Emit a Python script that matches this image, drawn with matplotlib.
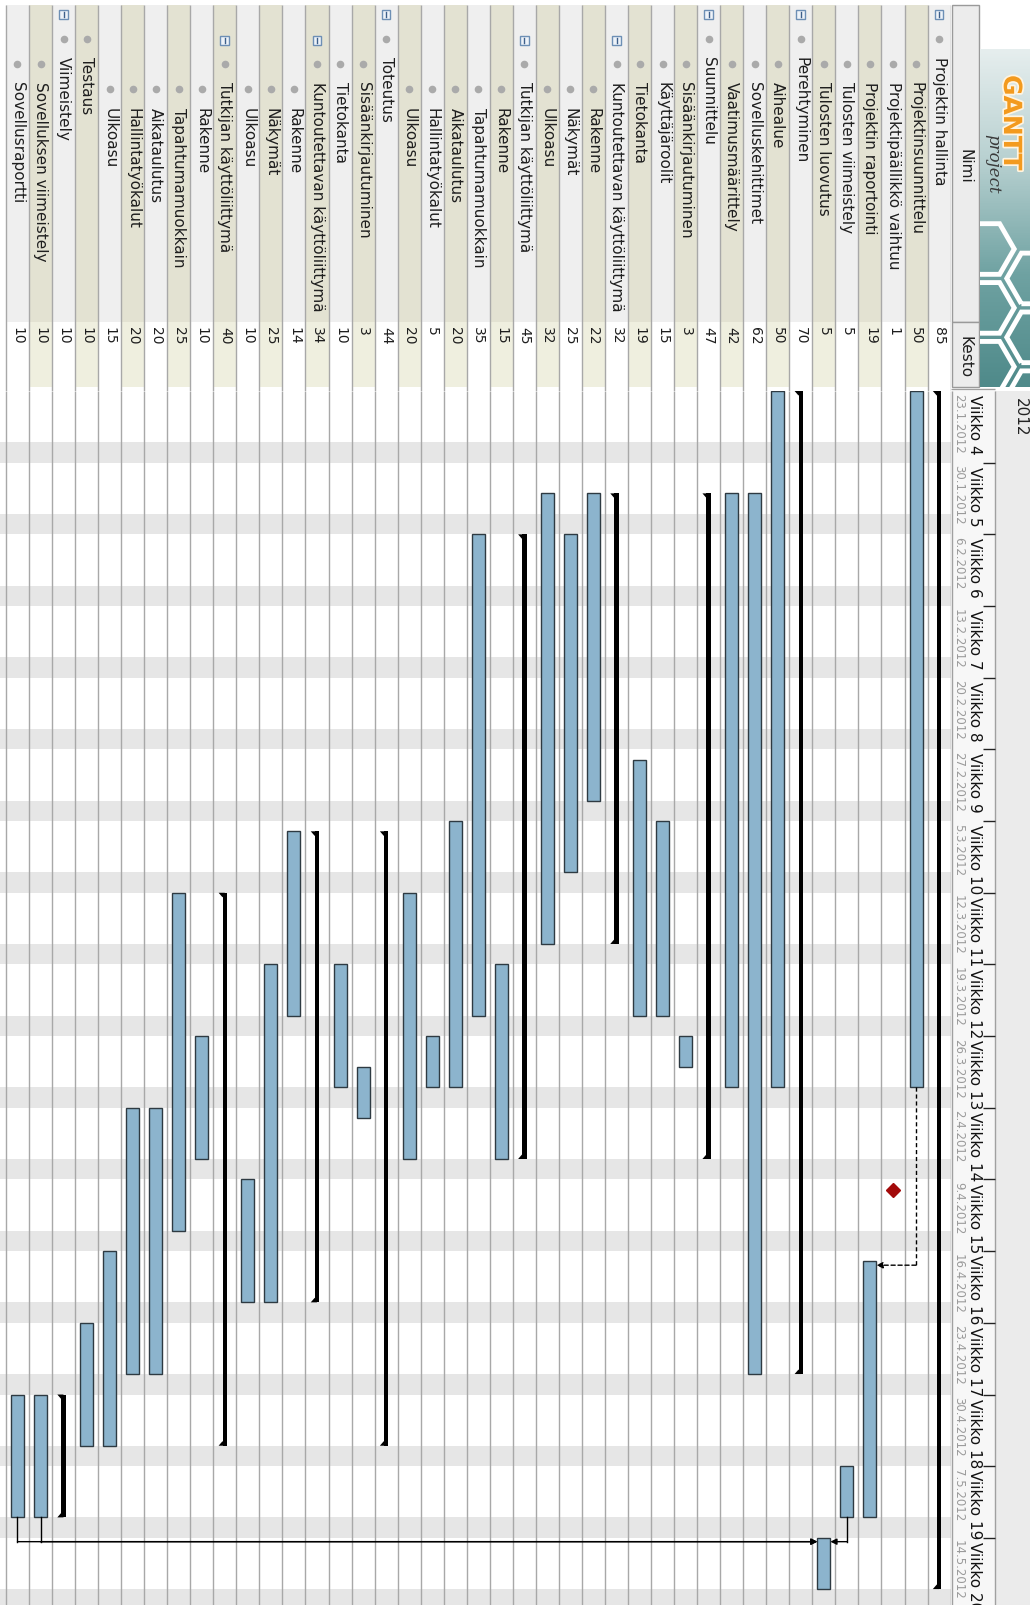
import numpy as np
import matplotlib.pyplot as plt
import matplotlib.patches as mpatches
import matplotlib.patheffects as pe

# ---- data (GanttProject export, shown rotated) ----
names = [
    "Projektin hallinta", "Projektinsuunnittelu", "Projektipäällikkö vaihtuu",
    "Projektin raportointi", "Tulosten viimeistely", "Tulosten luovutus",
    "Perehtyminen", "Aihealue", "Sovelluskehittimet", "Vaatimusmäärittely",
    "Suunnittelu", "Sisäänkirjautuminen", "Käyttäjäroolit", "Tietokanta",
    "Kuntoutettavan käyttöliittymä", "Rakenne", "Näkymät", "Ulkoasu",
    "Tutkijan käyttöliittymä", "Rakenne", "Tapahtumamuokkain", "Aikataulutus",
    "Hallintatyökalut", "Ulkoasu",
    "Toteutus", "Sisäänkirjautuminen", "Tietokanta",
    "Kuntoutettavan käyttöliittymä", "Rakenne", "Näkymät", "Ulkoasu",
    "Tutkijan käyttöliittymä", "Rakenne", "Tapahtumamuokkain", "Aikataulutus",
    "Hallintatyökalut", "Ulkoasu",
    "Testaus", "Viimeistely", "Sovelluksen viimeistely", "Sovellusraportti",
]
levels = [0, 1, 1, 1, 1, 1,
          0, 1, 1, 1,
          0, 1, 1, 1, 1, 2, 2, 2, 1, 2, 2, 2, 2, 2,
          0, 1, 1, 1, 2, 2, 2, 1, 2, 2, 2, 2, 2,
          0, 0, 1, 1]
groups = [0, 6, 10, 14, 18, 24, 27, 31, 38]
milestones = [2]
kesto = [85, 50, 1, 19, 5, 5, 70, 50, 62, 42, 47, 3, 15, 19, 32, 22, 25, 32,
         45, 15, 35, 20, 5, 20, 44, 3, 10, 34, 14, 25, 10, 40, 10, 25, 20, 20,
         15, 10, 10, 10, 10]
start_dates = [
    "2012-01-23", "2012-01-23", "2012-04-10", "2012-04-17", "2012-05-07", "2012-05-14",
    "2012-01-23", "2012-01-23", "2012-02-02", "2012-02-02",
    "2012-02-02", "2012-03-26", "2012-03-05", "2012-02-28", "2012-02-02",
    "2012-02-02", "2012-02-06", "2012-02-02", "2012-02-06", "2012-03-19",
    "2012-02-06", "2012-03-05", "2012-03-26", "2012-03-12",
    "2012-03-06", "2012-03-29", "2012-03-19", "2012-03-06", "2012-03-06",
    "2012-03-19", "2012-04-09", "2012-03-12", "2012-03-26", "2012-03-12",
    "2012-04-02", "2012-04-02", "2012-04-16",
    "2012-04-23", "2012-04-30", "2012-04-30", "2012-04-30",
]
# (from, to, dashed)
links = [(1, 3, True), (4, 5, False), (39, 5, False), (40, 5, False)]
weeks = list(range(4, 21))
week_dates = ["23.1.2012", "30.1.2012", "6.2.2012", "13.2.2012", "20.2.2012",
              "27.2.2012", "5.3.2012", "12.3.2012", "19.3.2012", "26.3.2012",
              "2.4.2012", "9.4.2012", "16.4.2012", "23.4.2012", "30.4.2012",
              "7.5.2012", "14.5.2012"]

day0 = np.datetime64("2012-01-23")
starts = np.array(start_dates, dtype="datetime64[D]")
dur = np.array(kesto)
ends = np.busday_offset(starts, dur - 1, roll="forward") + 1
off = (starts - day0).astype(int)
length = (ends - starts).astype(int)

# ---- layout (pixels) ----
W, H = 1030, 1606
ROW = 23.04
TR = 950.6
T0 = 392
PXD = 10.24
n = len(names)
dmax = (H - T0) / PXD
xl = (TR / ROW - 0.5, -0.5)

fig = plt.figure(figsize=(W / 100, H / 100), dpi=100)


def px_axes(x0, y0, x1, y1):
    a = fig.add_axes([x0 / W, 1 - y1 / H, (x1 - x0) / W, (y1 - y0) / H])
    a.axis("off")
    return a


ax_tab = px_axes(0, 0, TR, T0)
ax_tab.set_xlim(xl)
ax_tab.set_ylim(T0, 0)
ax_g = px_axes(0, T0, TR, H)
ax_g.set_xlim(xl)
ax_g.set_ylim(dmax, 0)
ax_t = px_axes(TR, T0, W, H)
ax_t.set_xlim(TR, W)
ax_t.set_ylim(dmax, 0)
ax_h = px_axes(TR, 0, W, T0)
ax_h.set_xlim(TR, W)
ax_h.set_ylim(T0, 0)

# ---- table ----
for i in range(n):
    odd = i % 2 == 1
    ax_tab.add_patch(mpatches.Rectangle((i - 0.5, 6), 1, 317,
                                        fc="#e3e2d2" if odd else "#efefef", lw=0))
    ax_tab.add_patch(mpatches.Rectangle((i - 0.5, 323), 1, 65,
                                        fc="#efefdf" if odd else "white", lw=0))
ax_tab.vlines(np.arange(-0.5, n + 0.5), 6, T0, color="#a8a8a8", lw=1)

dot_y = {0: 40, 1: 65, 2: 90}
txt_y = {0: 57, 1: 82, 2: 108}
box_y = {0: 15, 1: 41}
ax_tab.scatter(range(n), [dot_y[l] for l in levels], s=20, color="#aaaaaa", zorder=3)
for i in range(n):
    ax_tab.text(i, txt_y[levels[i]], names[i], rotation=270, ha="center", va="top",
                fontsize=11, color="#1e1e1e")
    ax_tab.text(i, 327, str(kesto[i]), rotation=270, ha="center", va="top",
                fontsize=10, color="#1e1e1e")
for g in groups:
    by = box_y[levels[g]]
    ax_tab.add_patch(mpatches.Rectangle((g - 0.19, by - 4.5), 0.38, 9,
                                        fc="#eef3f9", ec="#6d8fb5", lw=1, zorder=4))
    ax_tab.plot([g, g], [by - 2.5, by + 2.5], color="#3d5f8a", lw=1, zorder=5)

# ---- gantt area ----
for w in range(len(weeks)):
    ax_g.axhspan(7 * w + 5, 7 * w + 7, color="#e6e6e6", lw=0, zorder=0)
ax_g.vlines(np.arange(-0.5, n + 0.5), 0, dmax, color="#a8a8a8", lw=1, zorder=1)

tasks = [i for i in range(n) if i not in groups and i not in milestones]
ax_g.bar(tasks, length[tasks], bottom=off[tasks], width=13 / ROW,
         color="#8cb4cd", edgecolor="#2e3a42", lw=1, zorder=3)

bw = 4.5 / ROW
for g in groups:
    y0, y1 = off[g], off[g] + length[g]
    ax_g.add_patch(mpatches.Rectangle((g - bw / 2, y0), bw, y1 - y0,
                                      fc="black", lw=0, zorder=3))
    tip = g + bw / 2 + 4 / ROW
    ax_g.fill([g, tip, g + bw / 2], [y0, y0, y0 + 0.45], color="black", lw=0, zorder=3)
    ax_g.fill([g, tip, g + bw / 2], [y1, y1, y1 - 0.45], color="black", lw=0, zorder=3)

for m in milestones:
    ax_g.plot(m, off[m], marker="D", ms=7, color="#a30a0a", zorder=4)

half = 6.5 / ROW
for a, b, dashed in links:
    ls = (0, (3, 2)) if dashed else "-"
    ya = off[a] + length[a]
    yb = off[b] + 0.37
    tip = b - half if a < b else b + half
    ax_g.plot([a, a], [ya, yb], color="black", lw=1, ls=ls, zorder=4)
    ax_g.annotate("", xy=(tip, yb), xytext=(a, yb),
                  arrowprops=dict(arrowstyle="-|>", color="black", lw=1, ls=ls,
                                  mutation_scale=9, shrinkA=0, shrinkB=0), zorder=4)

# ---- time header ----
ax_t.add_patch(mpatches.Rectangle((TR, 0), 995 - TR, dmax, fc="#f7f7f7", lw=0))
ax_t.add_patch(mpatches.Rectangle((995, 0), W - 995, dmax, fc="#ebebeb", lw=0))
ax_t.vlines([951.5, 995], 0, dmax, color="#a0a0a0", lw=1)
wk_day = [7 * (k - weeks[0]) for k in weeks]
ax_t.hlines(wk_day[1:], 983, 995, color="#222222", lw=1)
for k, d, ds in zip(weeks, wk_day, week_dates):
    ax_t.text(975, d + 0.3, f"Viikko {k}", rotation=270, ha="center", va="top",
              fontsize=11, color="#111111", clip_on=True)
    ax_t.text(958.5, d + 0.15, ds, rotation=270, ha="center", va="top",
              fontsize=8.5, color="#9a9a9a", clip_on=True)
ax_t.text(1020, 0.6, "2012", rotation=270, ha="center", va="top", fontsize=11,
          color="#222222")

# ---- column headers & logo ----
ax_h.add_patch(mpatches.Rectangle((951.5, 6), 27.5, 317, fc="#ececec", ec="#9a9a9a", lw=1))
ax_h.add_patch(mpatches.Rectangle((951.5, 323), 27.5, 65, fc="#ececec", ec="#9a9a9a", lw=1))
ax_h.text(965, 166, "Nimi", rotation=270, ha="center", va="center", fontsize=11,
          color="#1e1e1e")
ax_h.text(965, 357, "Kesto", rotation=270, ha="center", va="center", fontsize=11,
          color="#1e1e1e")
ax_h.hlines(390, 951, 995, color="#a0a0a0", lw=1)

grad = np.linspace(0, 1, 200)[:, None]
cmap = plt.matplotlib.colors.LinearSegmentedColormap.from_list(
    "logo", ["#e6eeee", "#b7d0d0", "#6fa2a2", "#4f8a8a"])
ax_h.imshow(grad, extent=(980, W, 388, 50), cmap=cmap, aspect="auto", zorder=1)
clip = mpatches.Rectangle((980, 50), W - 980, 338, transform=ax_h.transData, fc="none", lw=0)
ax_h.add_patch(clip)
r = 34
for col, cx in enumerate(np.arange(985, 1060, r * 1.5)):
    shift = (col % 2) * r * np.sqrt(3) / 2
    for cy in np.arange(250 + shift, 460, r * np.sqrt(3)):
        hp = mpatches.RegularPolygon((cx, cy), 6, radius=r * 0.86, orientation=np.pi / 6,
                                     fc="none", ec="white", lw=3.5, zorder=2)
        ax_h.add_patch(hp)
        hp.set_clip_path(clip)
ax_h.text(1011, 76, "GANTT", rotation=270, ha="center", va="top", fontsize=18,
          fontweight="bold", color="#f39a1e", zorder=3,
          path_effects=[pe.withStroke(linewidth=2.5, foreground="#fff4e0")])
ax_h.text(993, 134, "project", rotation=270, ha="center", va="top", fontsize=12,
          family="DejaVu Serif", style="italic", color="#3a3a3a", zorder=3)

fig.savefig("out.png", dpi=100)
